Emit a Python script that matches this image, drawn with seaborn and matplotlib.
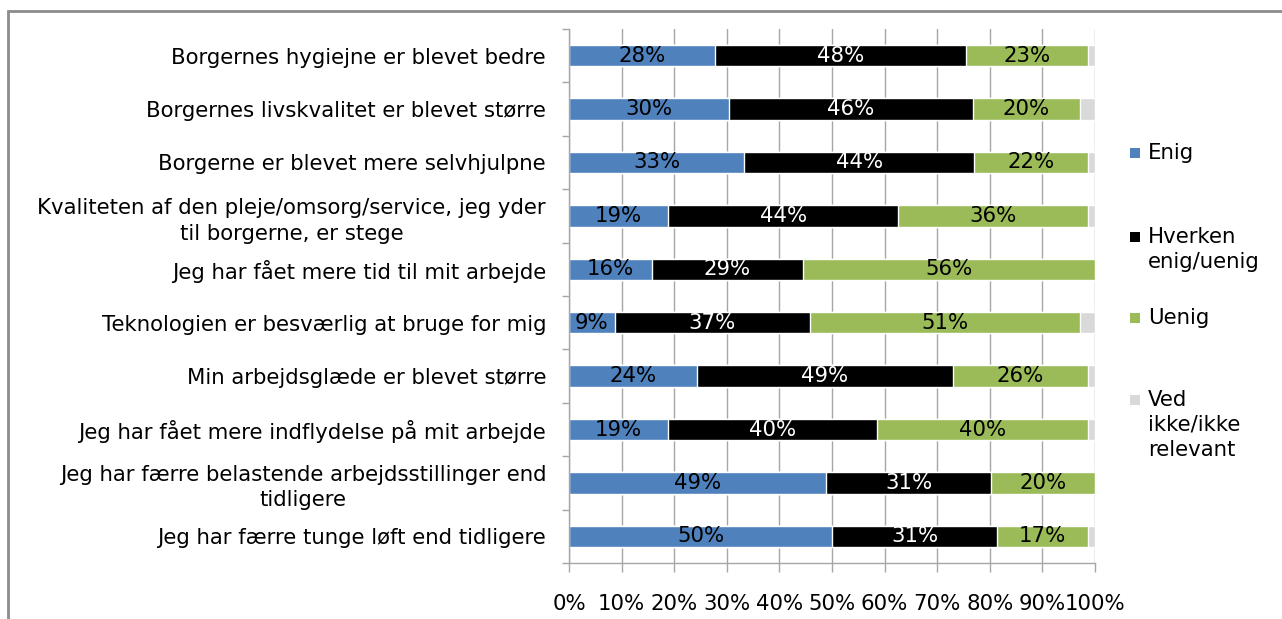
import numpy as np
import pandas as pd
import matplotlib
matplotlib.use("Agg")
import matplotlib.pyplot as plt
import seaborn as sns
from matplotlib.patches import Rectangle
from matplotlib.ticker import FixedLocator, MultipleLocator, PercentFormatter

statements = [
    "Borgernes hygiejne er blevet bedre",
    "Borgernes livskvalitet er blevet større",
    "Borgerne er blevet mere selvhjulpne",
    "Kvaliteten af den pleje/omsorg/service, jeg yder\ntil borgerne, er stege",
    "Jeg har fået mere tid til mit arbejde",
    "Teknologien er besværlig at bruge for mig",
    "Min arbejdsglæde er blevet større",
    "Jeg har fået mere indflydelse på mit arbejde",
    "Jeg har færre belastende arbejdsstillinger end\ntidligere",
    "Jeg har færre tunge løft end tidligere",
]
enig = [27.8, 30.4, 33.3, 18.9, 15.8, 8.7, 24.3, 18.8, 48.9, 50.0]
hverken = [47.7, 46.4, 43.7, 43.6, 28.6, 37.1, 48.7, 39.8, 31.4, 31.4]
uenig = [23.2, 20.3, 21.7, 36.2, 55.6, 51.4, 25.7, 40.1, 19.7, 17.3]
ved_ikke = [1.3, 2.9, 1.3, 1.3, 0.0, 2.8, 1.3, 1.3, 0.0, 1.3]

series_names = ["Enig", "Hverken\nenig/uenig", "Uenig", "Ved\nikke/ikke\nrelevant"]
series_colors = ["#4F81BD", "#000000", "#9BBB59", "#D9D9D9"]
label_colors = ["#000000", "#FFFFFF", "#000000", None]

df = pd.DataFrame({"statement": statements, "Enig": enig, "Hverken": hverken,
                   "Uenig": uenig, "Ved": ved_ikke})
cols = ["Enig", "Hverken", "Uenig", "Ved"]
cum = df[cols].cumsum(axis=1)

sns.set_theme(style="white")
plt.rcParams["font.family"] = ["DejaVu Sans"]
plt.rcParams["text.color"] = "black"
FS = 15.3

fig = plt.figure(figsize=(12.82, 6.19), dpi=100)
W, H = 1282, 619
ax = fig.add_axes([569 / W, 1 - 563 / H, (1095 - 569) / W, (563 - 29) / H])

# stacked bars: draw cumulative totals back to front
for i in reversed(range(len(cols))):
    sns.barplot(data=cum.assign(statement=statements), x=cols[i], y="statement",
                orient="h", color=series_colors[i], saturation=1, width=0.4,
                ax=ax, zorder=2)

# segment value labels
for r in range(len(statements)):
    left = 0.0
    for i, c in enumerate(cols):
        v = df.loc[r, c]
        if label_colors[i] is not None and v > 0:
            ax.text(left + v / 2, r, f"{v:.0f}%", ha="center", va="center",
                    color=label_colors[i], fontsize=FS, zorder=3)
        left += v

ax.set_xlim(0, 100)
ax.set_ylim(len(statements) - 0.5, -0.5)
ax.set_xlabel("")
ax.set_ylabel("")
ax.xaxis.set_major_locator(MultipleLocator(10))
ax.xaxis.set_major_formatter(PercentFormatter(decimals=0))
ax.xaxis.grid(True, color="#A6A6A6", linewidth=1.0)
ax.set_axisbelow(True)

for s in ["top", "right"]:
    ax.spines[s].set_visible(False)
for s in ["left", "bottom"]:
    ax.spines[s].set_color("#A6A6A6")
    ax.spines[s].set_linewidth(1.0)

ax.tick_params(axis="x", which="major", direction="out", length=6.5, width=1,
               color="#A6A6A6", pad=16, labelsize=FS, labelcolor="black",
               bottom=True)
ax.yaxis.set_minor_locator(FixedLocator(np.arange(-0.5, len(statements), 1.0)))
ax.tick_params(axis="y", which="minor", direction="out", length=5, width=1,
               color="#A6A6A6", left=True)
ax.tick_params(axis="y", which="major", length=0, pad=16.5, labelsize=FS,
               labelcolor="black")
for t in ax.get_yticklabels():
    t.set_multialignment("center")
    t.set_linespacing(1.35)

# legend
legend_tops = [143, 227, 308, 390]
for name, col, top in zip(series_names, series_colors, legend_tops):
    cy = top + 10
    fig.patches.append(Rectangle((1130 / W, 1 - (cy + 5) / H), 10 / W, 10 / H,
                                 transform=fig.transFigure, facecolor=col,
                                 edgecolor="none"))
    fig.text(1148 / W, 1 - top / H, name, ha="left", va="top", fontsize=FS,
             linespacing=1.3)

# chart frame
fig.patches.append(Rectangle((8 / W, -0.1), 1.2, 1 - 11 / H + 0.1,
                             transform=fig.transFigure, facecolor="none",
                             edgecolor="#8C8C8C", linewidth=2))

fig.savefig("out.png", dpi=100)
